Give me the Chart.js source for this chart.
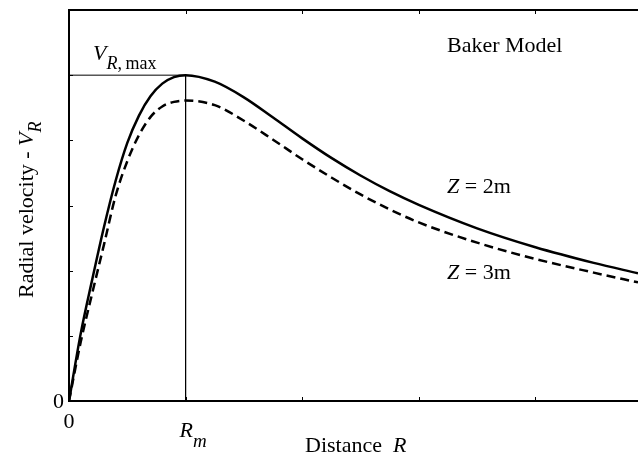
<!DOCTYPE html>
<html>
<head>
<meta charset="utf-8">
<script src="https://cdn.jsdelivr.net/npm/chart.js@4.4.1/dist/chart.umd.min.js"></script>
<style>
html,body{margin:0;padding:0;background:#fff;overflow:hidden;}
</style>
</head>
<body>
<canvas id="myChart" width="638" height="456"></canvas>
<script>
// distance R in units of R_m, velocity in tick units (V_R,max = 5)
const distance = [0,0.1,0.2,0.3,0.4,0.5,0.6,0.7,0.8,0.9,1,1.25,1.5,1.75,2,2.25,2.5,2.75,3,3.5,4,4.5,4.88];
const vZ2 = [0,1.03,1.87,2.67,3.38,3.96,4.38,4.68,4.87,4.97,5,4.90,4.66,4.35,4.03,3.73,3.46,3.22,3.01,2.65,2.36,2.12,1.96];
const vZ3 = [0,0.9,1.66,2.40,3.15,3.68,4.08,4.36,4.52,4.59,4.61,4.54,4.30,4.01,3.71,3.43,3.17,2.94,2.74,2.43,2.18,1.97,1.82];
const rm = 1;
const vMax = 5;
const xTicks = [1,2,3,4];
const yTicks = [1,2,3,4,5];

const serif = '"Liberation Serif", "Times New Roman", serif';

function pts(ys){ return distance.map((x,i)=>({x:x, y:ys[i]})); }

// draw a run of text pieces: [text, size, italic, dy]
function put(ctx, parts, x, y){
  parts.forEach(p => {
    ctx.font = (p[2] ? 'italic ' : '') + p[1] + 'px ' + serif;
    ctx.fillText(p[0], x, y + (p[3] || 0));
    x += ctx.measureText(p[0]).width;
  });
}

const labels = {
  id: 'labels',
  afterDraw(chart){
    const ctx = chart.ctx, xs = chart.scales.x, ys = chart.scales.y, a = chart.chartArea;
    const x0 = xs.getPixelForValue(0), y0 = ys.getPixelForValue(0);
    ctx.save();
    // small inward tick marks
    ctx.strokeStyle = '#000';
    ctx.lineWidth = 1;
    ctx.beginPath();
    xTicks.forEach(v => {
      const px = Math.round(xs.getPixelForValue(v)) + 0.5;
      ctx.moveTo(px, a.top); ctx.lineTo(px, a.top + 4);
      ctx.moveTo(px, a.bottom); ctx.lineTo(px, a.bottom - 4);
    });
    yTicks.forEach(v => {
      const py = Math.round(ys.getPixelForValue(v)) + 0.5;
      ctx.moveTo(a.left, py); ctx.lineTo(a.left + 4, py);
    });
    ctx.stroke();

    ctx.fillStyle = '#000';
    ctx.textBaseline = 'alphabetic';
    ctx.textAlign = 'left';
    ctx.font = '22px ' + serif;
    const w0 = ctx.measureText('0').width;
    put(ctx, [['0', 22]], x0 - w0 - 5, y0 + 7);
    put(ctx, [['0', 22]], x0 - w0 / 2, y0 + 27);
    put(ctx, [['R', 22, true], ['m', 19, true, 10]], xs.getPixelForValue(rm) - 6, y0 + 36);
    put(ctx, [['V', 22, true], ['R', 18, true, 9], [',\u2009max', 18, false, 9]], x0 + 24, ys.getPixelForValue(vMax) - 15);
    put(ctx, [['Distance  ', 22], ['R', 22, true]], 305, 452);
    put(ctx, [['Baker Model', 22]], 447, 52);
    put(ctx, [['Z', 22, true], [' = 2m', 22]], 447, 193);
    put(ctx, [['Z', 22, true], [' = 3m', 22]], 447, 279);

    ctx.translate(33, 298);
    ctx.rotate(-Math.PI / 2);
    put(ctx, [['Radial velocity - ', 22], ['V', 22, true], ['R', 18, true, 8]], 0, 0);
    ctx.restore();
  }
};

new Chart(document.getElementById('myChart'), {
  type: 'scatter',
  data: {
    datasets: [
      {
        label: 'Z = 2m',
        data: pts(vZ2),
        showLine: true,
        borderColor: '#000',
        borderWidth: 2.5,
        pointRadius: 0,
        cubicInterpolationMode: 'monotone'
      },
      {
        label: 'Z = 3m',
        data: pts(vZ3),
        showLine: true,
        borderColor: '#000',
        borderWidth: 2.5,
        borderDash: [9, 5],
        pointRadius: 0,
        cubicInterpolationMode: 'monotone'
      },
      {
        label: 'guide',
        data: [{x:0, y:vMax}, {x:rm, y:vMax}, {x:rm, y:0}],
        showLine: true,
        borderColor: '#000',
        borderWidth: 1,
        pointRadius: 0,
        tension: 0
      }
    ]
  },
  options: {
    responsive: false,
    animation: false,
    layout: {padding: {left: 69, right: 0, top: 10, bottom: 55}},
    plugins: {legend: {display: false}, tooltip: {enabled: false}},
    scales: {
      x: {
        type: 'linear', position: 'bottom', min: 0, max: 4.88,
        ticks: {display: false},
        grid: {display: false, drawTicks: false},
        border: {display: true, color: '#000', width: 2}
      },
      x2: {
        type: 'linear', position: 'top', min: 0, max: 4.88,
        ticks: {display: false},
        grid: {display: false, drawTicks: false},
        border: {display: true, color: '#000', width: 2}
      },
      y: {
        type: 'linear', position: 'left', min: 0, max: 6,
        ticks: {display: false},
        grid: {display: false, drawTicks: false},
        border: {display: true, color: '#000', width: 2}
      }
    }
  },
  plugins: [labels]
});
</script>
</body>
</html>
